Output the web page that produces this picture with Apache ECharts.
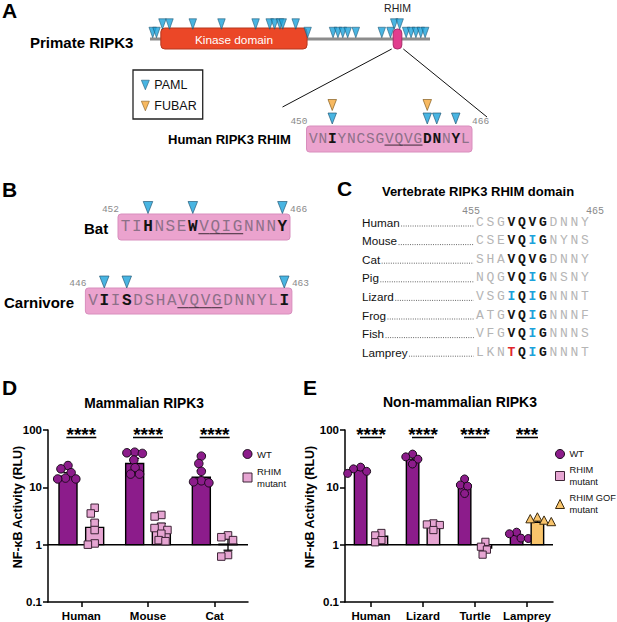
<!DOCTYPE html>
<html><head><meta charset="utf-8">
<script src="https://cdn.jsdelivr.net/npm/echarts@6/dist/echarts.min.js"></script>
<style>html,body{margin:0;padding:0;background:#fff}#c{width:617px;height:622px}</style>
</head><body><div id="c"></div>
<script>
// ================= DATA =================
// Panel A: primate RIPK3 protein (residue numbers)
const proteinLength = 518;
const domainNames = ['Kinase domain', 'RHIM'];
const domainStarts = [21, 450];
const domainEnds = [291, 466];
const pamlSitesUpper = [24, 37, 80, 133, 196, 222, 231, 241, 246, 270, 452, 462];
const pamlSitesLower = [6, 13, 292, 339, 348, 357, 366, 381, 429, 445, 474, 483, 492, 501, 509];

// Human RHIM
const humanRhimSeq = 'VNIYNCSGVQVGDNNYL';
const humanRhimStart = 450;
const humanRhimPaml = [452, 462, 463, 465];
const humanRhimFubar = [452, 462];
const humanRhimCore = [458, 461];

// Panel B
const batSeq = 'TIHNSEWVQIGNNNY';
const batStart = 452;
const batPaml = [454, 458, 466];
const batCore = [459, 462];
const carnSeq = 'VIISDSHAVQVGDNNYLI';
const carnStart = 446;
const carnPaml = [447, 449, 463];
const carnCore = [454, 457];

// Panel C
const alignSpecies = ['Human', 'Mouse', 'Cat', 'Pig', 'Lizard', 'Frog', 'Fish', 'Lamprey'];
const alignSeqs = ['CSGVQVGDNNY', 'CSEVQIGNYNS', 'SHAVQVGDNNY', 'NQGVQIGNSNY', 'VSGIQIGNNNT', 'ATGVQIGNNNF', 'VFGVQIGNNNS', 'LKNTQIGNNNT'];
const alignStart = 455;
const alignEnd = 465;
const alignCore = [458, 461];

// Panel D
const dCategories = ['Human', 'Mouse', 'Cat'];
const dWtMean = [15.6, 26, 15];
const dWtErrLow = [13.5, 21, 12.5];
const dWtErrHigh = [18, 32, 19.5];
const dWtPoints = [[24, 21, 18, 14.5, 14, 14], [41, 40, 39, 30, 22, 17, 17], [35, 26, 19, 13, 12.5, 12]];
const dMutMean = [2.0, 1.9, 1.02];
const dMutErrLow = [1.5, 1.55, 0.8];
const dMutErrHigh = [2.6, 2.35, 1.25];
const dMutPoints = [[4.4, 3.5, 2.4, 1.8, 1.05, 1.0], [3.3, 3.1, 2.05, 1.95, 1.8, 1.55, 1.2, 1.15], [1.45, 1.35, 1.2, 0.66, 0.62]];
const dSignificance = ['****', '****', '****'];

// Panel E
const eCategories = ['Human', 'Lizard', 'Turtle', 'Lamprey'];
const eWtMean = [20, 31, 11, 1.45];
const eWtErrLow = [18.5, 27, 9.5, 1.35];
const eWtErrHigh = [21.5, 35, 12.5, 1.57];
const eWtPoints = [[22.5, 21, 19, 17.5], [38, 34, 31, 25.5], [14, 11, 10.5, 7.8], [1.65, 1.55, 1.3, 1.28]];
const eMutMean = [1.4, 2.2, 0.87, null];
const eMutErrLow = [1.25, 1.95, 0.75, null];
const eMutErrHigh = [1.55, 2.35, 1.0, null];
const eMutPoints = [[1.6, 1.45, 1.2, 1.1], [2.35, 2.25, 2.2, 1.8], [1.12, 0.92, 0.82, 0.67], []];
const eGofMean = [null, null, null, 2.45];
const eGofErrLow = [null, null, null, 2.3];
const eGofErrHigh = [null, null, null, 2.6];
const eGofPoints = [[], [], [], [2.95, 2.75, 2.6, 2.45]];
const eSignificance = ['****', '****', '****', '***'];

// ================= STYLE =================
const SANS = '"Liberation Sans", Arial, Helvetica, sans-serif';
const MONO = '"Liberation Mono", "Courier New", monospace';
const C_PURPLE = '#8C1C8B', C_PINK = '#E6A5D2', C_GOLD = '#F8C46B';
const C_BLUE = '#1CA2DB', C_ORANGE = '#F5A83A', C_RED = '#E0262B';
const C_SEQBOX = '#EBA3CE';
const TRI_PATH = 'path://M0,0 L10,0 L5,12 Z';

const chart = echarts.init(document.getElementById('c'), null, {renderer: 'svg', width: 617, height: 622});

function txt(text, x, y, font, fill, align, valign) {
  return {type: 'text', style: {text, x, y, font, fill: fill || '#000', align: align || 'left', verticalAlign: valign || 'middle', textAlign: align || 'left', textVerticalAlign: valign || 'middle'}};
}

// ---------- sequence panels (A lower, B) ----------
function seqSeries(o) {
  const g = o.grid;
  const out = [];
  out.push({
    type: 'custom', name: 'seqbox', xAxisIndex: g, yAxisIndex: g, silent: true, z: 1,
    data: [[o.start, o.start + o.seq.length - 1]],
    renderItem: (p, api) => {
      const a = api.coord([api.value(0) - 0.5, o.boxTop]);
      const b = api.coord([api.value(1) + 0.5, o.boxBot]);
      const pad = 2;
      return {type: 'group', children: [
        {type: 'rect', shape: {x: a[0] - pad, y: a[1], width: b[0] - a[0] + 2 * pad, height: b[1] - a[1], r: 3},
          style: {fill: C_SEQBOX, stroke: '#D88EBD', lineWidth: 1}},
        txt(String(api.value(0)), a[0] - pad + 1, a[1] - 5, '9.5px ' + MONO, '#8a8a8a', 'right'),
        txt(String(api.value(1)), b[0] + pad, a[1] - 5, '9.5px ' + MONO, '#8a8a8a', 'left')
      ]};
    }
  });
  out.push({
    type: 'custom', name: 'seq', xAxisIndex: g, yAxisIndex: g, silent: true, z: 2,
    data: o.seq.split('').map((c, i) => [o.start + i, o.letterV]),
    renderItem: (p, api) => {
      const pos = api.value(0);
      const ch = o.seq[pos - o.start];
      const c = api.coord([pos, o.letterV]);
      const cw = api.coord([pos + 0.5, o.letterV])[0] - api.coord([pos - 0.5, o.letterV])[0];
      const bold = o.paml.indexOf(pos) >= 0;
      const kids = [txt(ch, c[0], c[1], (bold ? 'bold ' : '') + o.fs + 'px ' + MONO, bold ? '#141414' : '#8d7088', 'center')];
      if (pos >= o.core[0] && pos <= o.core[1]) {
        const uy = c[1] + o.fs * 0.42;
        kids.push({type: 'line', shape: {x1: c[0] - cw / 2, y1: uy, x2: c[0] + cw / 2, y2: uy}, style: {stroke: '#3b2a36', lineWidth: 1}});
      }
      return {type: 'group', children: kids};
    }
  });
  out.push({
    type: 'scatter', name: 'PAML', xAxisIndex: g, yAxisIndex: g, z: 3, silent: true,
    data: o.paml.map(s => [s, o.triV]), symbol: 'triangle', symbolRotate: 180, symbolSize: o.triSize,
    itemStyle: {color: C_BLUE, borderColor: '#1d5370', borderWidth: 0.8}
  });
  if (o.fubar) {
    out.push({
      type: 'scatter', name: 'FUBAR', xAxisIndex: g, yAxisIndex: g, z: 3, silent: true,
      data: o.fubar.map(s => [s, o.fubarV]), symbol: 'triangle', symbolRotate: 180, symbolSize: o.triSize,
      itemStyle: {color: C_ORANGE, borderColor: '#7a5214', borderWidth: 0.8}
    });
  }
  return out;
}

// ---------- bar + scatter panels ----------
function swarm(ys, d) {
  const order = ys.map((y, i) => i).sort((a, b) => ys[a] - ys[b]);
  const placed = [], xs = new Array(ys.length);
  for (const i of order) {
    const y = ys[i];
    const cands = [0];
    for (const q of placed) {
      const dy = Math.abs(q.y - y);
      if (dy < d) { const dx = Math.sqrt(d * d - dy * dy); cands.push(q.x + dx, q.x - dx); }
    }
    cands.sort((a, b) => (Math.abs(a) - Math.abs(b)) || (a - b));
    let x = 0;
    for (const c of cands) {
      if (placed.every(q => (q.x - c) * (q.x - c) + (q.y - y) * (q.y - y) >= d * d - 0.01)) { x = c; break; }
    }
    placed.push({x, y}); xs[i] = x;
  }
  return xs;
}
function symbolEl(shape, x, y, s, color) {
  if (shape === 'circle') return {type: 'circle', shape: {cx: x, cy: y, r: s / 2}, style: {fill: color, stroke: '#1a0a1a', lineWidth: 1}};
  if (shape === 'rect') return {type: 'rect', shape: {x: x - s / 2, y: y - s / 2, width: s, height: s}, style: {fill: color, stroke: '#3d2436', lineWidth: 1}};
  return {type: 'polygon', shape: {points: [[x, y - s * 0.62], [x - s * 0.55, y + s * 0.42], [x + s * 0.55, y + s * 0.42]]}, style: {fill: color, stroke: '#3a2a10', lineWidth: 1}};
}
function barSeries(o) {
  return {
    type: 'custom', name: o.name, xAxisIndex: o.axis, yAxisIndex: o.axis, silent: true, z: o.z || 2,
    itemStyle: {color: o.color},
    data: o.means.map((m, i) => m == null ? null : [i, m]).filter(Boolean),
    renderItem: (p, api) => {
      const cat = api.value(0), mean = api.value(1);
      const band = api.coord([1, 1])[0] - api.coord([0, 1])[0];
      const c = api.coord([cat, mean]);
      const cx = c[0] + o.offset * band;
      const base = api.coord([cat, 1])[1];
      const bw = o.barFrac * band;
      const kids = [];
      if (o.baseline && p.dataIndex === 0) {
        const cs = p.coordSys;
        kids.push({type: 'line', shape: {x1: cs.x, y1: base, x2: cs.x + cs.width, y2: base}, style: {stroke: '#000', lineWidth: 1.5}});
      }
      const yl = api.coord([cat, o.errLo[cat]])[1], yh = api.coord([cat, o.errHi[cat]])[1];
      const cap = bw * 0.5;
      const es = {stroke: '#000', lineWidth: 1.3};
      kids.push({type: 'line', shape: {x1: cx, y1: yl, x2: cx, y2: yh}, style: es});
      kids.push({type: 'line', shape: {x1: cx - cap / 2, y1: yl, x2: cx + cap / 2, y2: yl}, style: es});
      kids.push({type: 'line', shape: {x1: cx - cap / 2, y1: yh, x2: cx + cap / 2, y2: yh}, style: es});
      kids.push({type: 'rect', shape: {x: cx - bw / 2, y: Math.min(c[1], base), width: bw, height: Math.abs(base - c[1])},
        style: {fill: o.color, stroke: '#000', lineWidth: 1.4}});
      const ys = o.points[cat].map(v => api.coord([cat, v])[1]);
      const xs = swarm(ys, o.sym * 0.92);
      ys.forEach((y, k) => kids.push(symbolEl(o.shape, cx + xs[k], y, o.sym, o.color)));
      return {type: 'group', children: kids};
    }
  };
}
function sigSeries(axis, labels, lineW) {
  return {
    type: 'custom', name: 'sig', xAxisIndex: axis, yAxisIndex: axis, silent: true, z: 5,
    data: labels.map((s, i) => [i, 100]),
    renderItem: (p, api) => {
      const c = api.coord([api.value(0), api.value(1)]);
      return {type: 'group', children: [
        txt(labels[api.value(0)], c[0], c[1] + 4, 'bold 19px ' + SANS, '#000', 'center'),
        {type: 'line', shape: {x1: c[0] - lineW / 2, y1: c[1] + 7.5, x2: c[0] + lineW / 2, y2: c[1] + 7.5}, style: {stroke: '#000', lineWidth: 1.5}}
      ]};
    }
  };
}

// ---------- panel C ----------
const nameMargin = 112.75;
const measureCtx = document.createElement('canvas').getContext('2d');
measureCtx.font = '11.7px "Liberation Sans"';

const hiddenVal = (gi, min, max, inverse) => ({gridIndex: gi, type: 'value', min, max, inverse: !!inverse, show: false});
const axisLineStyle = {color: '#000', width: 1.5};

const logY = (gi, gap) => ({
  gridIndex: gi, type: 'log', logBase: 10, min: 0.1, max: 100,
  axisLine: {show: true, lineStyle: axisLineStyle},
  axisTick: {show: true, length: 5, lineStyle: axisLineStyle},
  minorTick: {show: false}, splitLine: {show: false},
  axisLabel: {color: '#000', fontWeight: 'bold', fontSize: 11.5, fontFamily: SANS, margin: 6,
    formatter: v => String(Number(Number(v).toPrecision(3)))},
  name: 'NF-κB Activity (RLU)', nameLocation: 'middle', nameGap: gap, nameMoveOverlap: false,
  nameTextStyle: {color: '#000', fontWeight: 'bold', fontSize: 12.5, fontFamily: SANS, padding: [0, 0, 0, 18]}
});
const catX = (gi, data) => ({
  gridIndex: gi, type: 'category', data,
  axisLine: {show: true, lineStyle: axisLineStyle},
  axisTick: {show: true, alignWithLabel: true, length: 5, lineStyle: axisLineStyle},
  splitLine: {show: false},
  axisLabel: {color: '#000', fontWeight: 'bold', fontSize: 11.5, fontFamily: SANS, margin: 8, interval: 0}
});

const grids = [
  {left: 150, top: 10, width: 280, height: 40},          // 0 protein
  {left: 308.5, top: 95, width: 161.5, height: 60},      // 1 human RHIM
  {left: 120, top: 195, width: 168, height: 50},         // 2 bat
  {left: 87.4, top: 270, width: 202.5, height: 50},      // 3 carnivore
  {left: 474.75, top: 212.7, width: 115.5, height: 148.8}, // 4 alignment
  {left: 48, top: 430, width: 200, height: 172},         // 5 D
  {left: 345, top: 430, width: 208, height: 172}         // 6 E
].map(g => Object.assign({show: false, containLabel: false, outerBoundsMode: 'none'}, g));

const series = [];
// Panel A protein
series.push({
  type: 'custom', name: 'backbone', xAxisIndex: 0, yAxisIndex: 0, silent: true, z: 1,
  data: [[1, proteinLength]],
  renderItem: (p, api) => {
    const a = api.coord([api.value(0), 29]), b = api.coord([api.value(1), 29]);
    return {type: 'line', shape: {x1: a[0], y1: a[1], x2: b[0], y2: b[1]}, style: {stroke: '#8c8c8c', lineWidth: 3}};
  }
});
series.push({
  type: 'custom', name: 'domains', xAxisIndex: 0, yAxisIndex: 0, silent: true, z: 2,
  data: domainStarts.map((s, i) => [s, domainEnds[i]]),
  renderItem: (p, api) => {
    const i = p.dataIndex;
    const isKinase = i === 0;
    const a = api.coord([api.value(0), isKinase ? 18 : 19]), b = api.coord([api.value(1), 39]);
    const kids = [{type: 'rect', shape: {x: a[0], y: a[1], width: b[0] - a[0], height: b[1] - a[1], r: 4},
      style: isKinase ? {fill: '#EB4727', stroke: '#B5391F', lineWidth: 1} : {fill: '#E23D8E', stroke: '#A82C69', lineWidth: 1}}];
    if (isKinase) kids.push(txt(domainNames[i], (a[0] + b[0]) / 2, (a[1] + b[1]) / 2 + 1, '11.8px ' + SANS, '#fff', 'center'));
    else kids.push(txt(domainNames[i], (a[0] + b[0]) / 2, a[1] - 21, '10.5px ' + SANS, '#222', 'center'));
    return {type: 'group', children: kids};
  }
});
series.push({
  type: 'scatter', name: 'PAML', xAxisIndex: 0, yAxisIndex: 0, z: 3, silent: true,
  data: pamlSitesUpper.map(s => [s, 14]).concat(pamlSitesLower.map(s => [s, 22.5])),
  symbol: 'triangle', symbolRotate: 180, symbolSize: [7.5, 10.5],
  itemStyle: {color: C_BLUE, borderColor: '#1d5370', borderWidth: 0.7}
});
// Human RHIM
series.push(...seqSeries({grid: 1, seq: humanRhimSeq, start: humanRhimStart, paml: humanRhimPaml, fubar: humanRhimFubar,
  core: humanRhimCore, fs: 14.5, triV: 23.5, fubarV: 10, boxTop: 31, boxBot: 57, letterV: 44, triSize: [8.5, 11]}));
// Panel B
series.push(...seqSeries({grid: 2, seq: batSeq, start: batStart, paml: batPaml, core: batCore,
  fs: 16, triV: 12.5, boxTop: 19, boxBot: 45, letterV: 32, triSize: [9.5, 12]}));
series.push(...seqSeries({grid: 3, seq: carnSeq, start: carnStart, paml: carnPaml, core: carnCore,
  fs: 16, triV: 12, boxTop: 18, boxBot: 44, letterV: 31, triSize: [9.5, 12]}));

// Panel C
series.push({
  type: 'custom', name: 'leaders', xAxisIndex: 4, yAxisIndex: 4, silent: true,
  data: alignSpecies.map((s, r) => [alignStart, r]),
  renderItem: (p, api) => {
    const r = api.value(1);
    const c = api.coord([alignStart - 0.5, r]);
    const x0 = c[0] - nameMargin + measureCtx.measureText(alignSpecies[r]).width + 1.5;
    return {type: 'line', shape: {x1: x0, y1: c[1] + 4, x2: c[0] - 1, y2: c[1] + 4},
      style: {stroke: '#444', lineWidth: 0.9, lineDash: [0.9, 1.4]}};
  }
});
const alignData = [];
alignSeqs.forEach((sq, r) => sq.split('').forEach((ch, i) => alignData.push([alignStart + i, r])));
series.push({
  type: 'custom', name: 'alignment', xAxisIndex: 4, yAxisIndex: 4, silent: true,
  data: alignData,
  renderItem: (p, api) => {
    const pos = api.value(0), r = api.value(1);
    const ch = alignSeqs[r][pos - alignStart];
    const core = pos >= alignCore[0] && pos <= alignCore[1];
    const fill = core ? (ch === 'I' ? C_BLUE : ch === 'T' ? C_RED : '#141414') : '#b5b5b5';
    const c = api.coord([pos, r]);
    return txt(ch, c[0], c[1], (core ? 'bold ' : '') + '13px ' + MONO, fill, 'center');
  }
});
series.push({
  type: 'custom', name: 'alignPos', xAxisIndex: 4, yAxisIndex: 4, silent: true,
  data: [[alignStart, 0], [alignEnd, 0]],
  renderItem: (p, api) => {
    const c = api.coord([api.value(0), 0]);
    return txt(String(api.value(0)), c[0] + (p.dataIndex === 0 ? 0 : 1), c[1] - 11, '10px ' + MONO, '#8a8a8a', p.dataIndex === 0 ? 'right' : 'left');
  }
});

// Panel D
series.push(barSeries({name: 'WT', axis: 5, means: dWtMean, errLo: dWtErrLow, errHi: dWtErrHigh, points: dWtPoints,
  color: C_PURPLE, shape: 'circle', offset: -0.2, barFrac: 0.27, sym: 8.5, baseline: true}));
series.push(barSeries({name: 'RHIM mutant', axis: 5, means: dMutMean, errLo: dMutErrLow, errHi: dMutErrHigh, points: dMutPoints,
  color: C_PINK, shape: 'rect', offset: 0.2, barFrac: 0.27, sym: 7.5}));
series.push(sigSeries(5, dSignificance, 30));
// Panel E
series.push(barSeries({name: 'WT', axis: 6, means: eWtMean, errLo: eWtErrLow, errHi: eWtErrHigh, points: eWtPoints,
  color: C_PURPLE, shape: 'circle', offset: -0.2, barFrac: 0.24, sym: 8, baseline: true}));
series.push(barSeries({name: 'RHIM mutant', axis: 6, means: eMutMean, errLo: eMutErrLow, errHi: eMutErrHigh, points: eMutPoints,
  color: C_PINK, shape: 'rect', offset: 0.2, barFrac: 0.24, sym: 7.2}));
series.push(barSeries({name: 'RHIM GOF mutant', axis: 6, means: eGofMean, errLo: eGofErrLow, errHi: eGofErrHigh, points: eGofPoints,
  color: C_GOLD, shape: 'triangle', offset: 0.2, barFrac: 0.24, sym: 8}));
series.push(sigSeries(6, eSignificance, 22));

const lgText = n => n.replace(/ mutant$/, '\nmutant');
const option = {
  animation: false,
  backgroundColor: '#fff',
  textStyle: {fontFamily: SANS},
  grid: grids,
  xAxis: [
    hiddenVal(0, 1, proteinLength),
    hiddenVal(1, humanRhimStart - 0.5, humanRhimStart + humanRhimSeq.length - 0.5),
    hiddenVal(2, batStart - 0.5, batStart + batSeq.length - 0.5),
    hiddenVal(3, carnStart - 0.5, carnStart + carnSeq.length - 0.5),
    hiddenVal(4, alignStart - 0.5, alignEnd + 0.5),
    catX(5, dCategories),
    catX(6, eCategories)
  ],
  yAxis: [
    hiddenVal(0, 0, 40, true),
    hiddenVal(1, 0, 60, true),
    hiddenVal(2, 0, 50, true),
    hiddenVal(3, 0, 50, true),
    {gridIndex: 4, type: 'category', data: alignSpecies, inverse: true,
      axisLine: {show: false}, axisTick: {show: false}, splitLine: {show: false},
      axisLabel: {align: 'left', margin: nameMargin, color: '#111', fontSize: 11.7, fontFamily: SANS}},
    logY(5, 24),
    logY(6, 29)
  ],
  legend: [
    {id: 'lgA', selectedMode: false, orient: 'vertical', left: 133, top: 70, padding: [8, 6, 6, 8], itemGap: 7,
      itemWidth: 8, itemHeight: 12, borderColor: '#222', borderWidth: 1.3,
      textStyle: {fontSize: 12.5, color: '#111', lineHeight: 14},
      data: [{name: 'PAML', icon: TRI_PATH, itemStyle: {color: C_BLUE, borderColor: '#1d5370', borderWidth: 0.7}},
             {name: 'FUBAR', icon: TRI_PATH, itemStyle: {color: C_ORANGE, borderColor: '#7a5214', borderWidth: 0.7}}]},
    {id: 'lgD', selectedMode: false, orient: 'vertical', left: 242.5, top: 448, padding: 0, itemGap: 5.5,
      itemWidth: 9, itemHeight: 9, formatter: lgText, textStyle: {fontSize: 9.5, color: '#111', lineHeight: 12},
      data: [{name: 'WT', icon: 'circle', itemStyle: {color: C_PURPLE, borderColor: '#1a0a1a', borderWidth: 1}},
             {name: 'RHIM mutant', icon: 'rect', itemStyle: {color: C_PINK, borderColor: '#3d2436', borderWidth: 1}}]},
    {id: 'lgE', selectedMode: false, orient: 'vertical', left: 555, top: 448, padding: 0, itemGap: 4,
      itemWidth: 9, itemHeight: 9, formatter: lgText, textStyle: {fontSize: 9.3, color: '#111', lineHeight: 12},
      data: [{name: 'WT', icon: 'circle', itemStyle: {color: C_PURPLE, borderColor: '#1a0a1a', borderWidth: 1}},
             {name: 'RHIM mutant', icon: 'rect', itemStyle: {color: C_PINK, borderColor: '#3d2436', borderWidth: 1}},
             {name: 'RHIM GOF mutant', icon: 'triangle', itemStyle: {color: C_GOLD, borderColor: '#3a2a10', borderWidth: 1}}]}
  ],
  series
};
chart.setOption(option);

// zoom connector lines + free text labels
const rhimBL = chart.convertToPixel({gridIndex: 0}, [domainStarts[1], 39]);
const rhimBR = chart.convertToPixel({gridIndex: 0}, [domainEnds[1], 39]);
const hBoxL = chart.convertToPixel({gridIndex: 1}, [humanRhimStart - 0.5, 31]);
const hBoxR = chart.convertToPixel({gridIndex: 1}, [humanRhimStart + humanRhimSeq.length - 0.5, 31]);
const gEl = (t, x, y, font, align) => ({type: 'text', x, y, silent: true,
  style: {text: t, font, fill: '#000', align: align || 'left', verticalAlign: 'middle', textAlign: align || 'left', textVerticalAlign: 'middle'}});
chart.setOption({graphic: {elements: [
  {type: 'line', silent: true, shape: {x1: rhimBL[0] - 1.5, y1: rhimBL[1], x2: hBoxL[0] - 26, y2: hBoxL[1] - 19}, style: {stroke: '#111', lineWidth: 1}},
  {type: 'line', silent: true, shape: {x1: rhimBR[0] + 1.5, y1: rhimBR[1], x2: hBoxR[0] + 17, y2: hBoxR[1] - 9}, style: {stroke: '#111', lineWidth: 1}},
  gEl('A', 2, 10.5, 'bold 21px ' + SANS),
  gEl('B', 2, 189, 'bold 21px ' + SANS),
  gEl('C', 337, 188, 'bold 21px ' + SANS),
  gEl('D', 2, 387, 'bold 21px ' + SANS),
  gEl('E', 303, 387, 'bold 21px ' + SANS),
  gEl('Primate RIPK3', 30, 42, 'bold 15px ' + SANS),
  gEl('Human RIPK3 RHIM', 168, 139, 'bold 13px ' + SANS),
  gEl('Bat', 84, 228, 'bold 15px ' + SANS),
  gEl('Carnivore', 4, 302, 'bold 15px ' + SANS),
  gEl('Vertebrate RIPK3 RHIM domain', 478, 191, 'bold 13px ' + SANS, 'center'),
  gEl('Mammalian RIPK3', 144, 403, 'bold 13.8px ' + SANS, 'center'),
  gEl('Non-mammalian RIPK3', 460, 402, 'bold 14px ' + SANS, 'center')
]}});
</script></body></html>
